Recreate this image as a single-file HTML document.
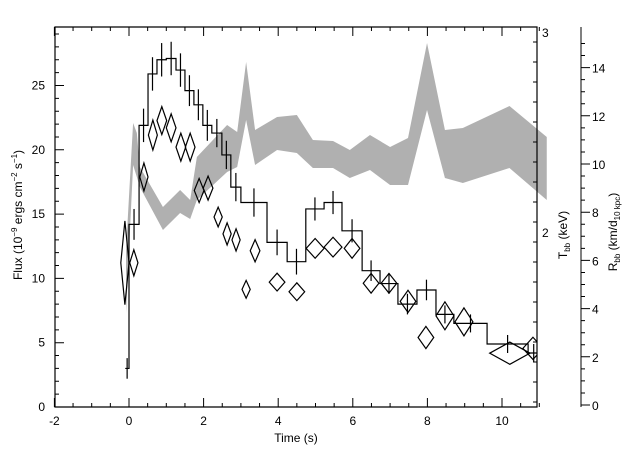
<!DOCTYPE html>
<html><head><meta charset="utf-8"><style>
html,body{margin:0;padding:0;background:#fff;width:640px;height:457px;overflow:hidden}
svg text{font-family:"Liberation Sans",sans-serif;fill:#000}
</style></head><body>
<svg id="chart" width="640" height="457" xmlns="http://www.w3.org/2000/svg">
<defs><clipPath id="plotclip"><rect x="55" y="27" width="482" height="380"/></clipPath></defs>
<g id="band"></g>
<g id="flux" clip-path="url(#plotclip)"></g>
<g id="diam" clip-path="url(#plotclip)"></g>
<g id="axes"></g>
</svg>
<script>
// Flux histogram
const binEdges=[-0.1,0,0.27,0.51,0.75,1.0,1.26,1.5,1.74,1.98,2.22,2.49,2.73,3.0,3.7,4.24,4.74,5.23,5.71,6.25,6.73,7.21,7.72,8.23,8.71,9.6,10.7,11.0];
const fluxVals=[3.0,14.2,21.9,25.9,27.0,27.1,26.2,24.6,23.5,21.9,21.3,19.6,17.1,15.9,12.8,11.3,15.4,15.9,13.7,10.6,9.6,8.0,9.1,7.2,6.5,4.9,4.2];
const fluxErr=[0.8,1.2,1.3,1.3,1.3,1.3,1.3,1.2,1.2,1.2,1.1,1.1,1.1,1.1,1.0,1.0,0.9,0.9,0.9,0.8,0.8,0.8,0.8,0.7,0.7,0.7,0.7];
// Temperature band (keV)
const bandT=[-0.08,0.11,0.21,0.29,0.91,1.37,1.64,1.82,2.63,2.9,3.14,3.38,3.97,4.5,4.93,5.47,5.92,6.46,7.0,7.48,7.99,8.47,8.95,10.2,11.2];
const bandLo=[1.595,2.335,2.275,2.225,2.01,2.095,2.065,2.16,2.30,2.325,2.56,2.335,2.41,2.395,2.32,2.32,2.27,2.31,2.235,2.235,2.61,2.27,2.245,2.32,2.16];
const bandHi=[1.91,2.545,2.495,2.325,2.125,2.21,2.16,2.375,2.535,2.50,2.85,2.51,2.575,2.585,2.46,2.455,2.41,2.485,2.425,2.47,2.945,2.51,2.52,2.63,2.475];
// Radius diamonds
const radT=[-0.11,0.13,0.40,0.64,0.88,1.13,1.39,1.64,1.88,2.12,2.39,2.63,2.87,3.14,3.38,3.97,4.5,4.99,5.47,5.98,6.49,6.97,7.48,7.96,8.47,8.98,10.21,10.83];
const radR=[5.9,5.9,9.46,11.2,11.8,11.5,10.7,10.7,8.9,9.0,7.8,7.1,6.85,4.8,6.4,5.1,4.7,6.5,6.55,6.5,5.05,5.05,4.3,2.8,3.7,3.45,2.15,2.35];
const radRErr=[1.74,0.54,0.58,0.62,0.58,0.58,0.58,0.58,0.5,0.5,0.41,0.46,0.46,0.37,0.46,0.37,0.37,0.41,0.41,0.41,0.41,0.41,0.46,0.46,0.58,0.58,0.46,0.46];
const radTErr=[0.11,0.11,0.11,0.12,0.13,0.13,0.13,0.13,0.13,0.13,0.11,0.11,0.11,0.11,0.13,0.21,0.21,0.24,0.24,0.21,0.21,0.21,0.21,0.21,0.24,0.24,0.54,0.27];
const xTicks=[-2,0,2,4,6,8,10];
const yTicks=[0,5,10,15,20,25];
const tTicks=[2,3];
const rTicks=[0,2,4,6,8,10,12,14];

const L=55,R=537,T=27,B=407;
const xS=t=>129+(t)*37.3;
const yF=f=>407-f*12.86;
const yT=k=>232-(k-2)*200;
const yR=r=>405-r*24.1;
const NS="http://www.w3.org/2000/svg";
function mk(tag,parent,attrs){const e=document.createElementNS(NS,tag);for(const k in attrs)e.setAttribute(k,attrs[k]);parent.appendChild(e);return e;}

// band
const band=document.getElementById('band');
let pts=bandT.map((t,i)=>xS(t)+','+yT(bandHi[i]));
for(let i=bandT.length-1;i>=0;i--)pts.push(xS(bandT[i])+','+yT(bandLo[i]));
const poly=mk('polygon',band,{points:pts.join(' '),fill:'#b0b0b0',stroke:'none'});



// flux
const fg=document.getElementById('flux');
let d='M'+xS(binEdges[0])+' '+yF(fluxVals[0]);
for(let i=0;i<fluxVals.length;i++){d+=' L'+xS(binEdges[i])+' '+yF(fluxVals[i])+' L'+xS(binEdges[i+1])+' '+yF(fluxVals[i]);}
const fp=mk('path',fg,{d:d,fill:'none',stroke:'#000','stroke-width':1.2});


for(let i=0;i<fluxVals.length;i++){
  const xc=xS((binEdges[i]+binEdges[i+1])/2);
  const eb=mk('line',fg,{x1:xc,x2:xc,y1:yF(fluxVals[i]+fluxErr[i]),y2:yF(fluxVals[i]-fluxErr[i]),stroke:'#000','stroke-width':1.2});
  
  
}
// diamonds
const dg=document.getElementById('diam');
for(let i=0;i<radT.length;i++){
  const x=xS(radT[i]),y=yR(radR[i]),w=radTErr[i]*37.3,h=radRErr[i]*24.1;
  const p=mk('polygon',dg,{points:`${x-w},${y} ${x},${y-h} ${x+w},${y} ${x},${y+h}`,fill:'none',stroke:'#000','stroke-width':1.2});
  
  
}
// axes
const ax=document.getElementById('axes');
const frame=mk('path',ax,{d:`M${L} ${T} L${R} ${T} L${R} ${B} L${L} ${B} Z`,fill:'none',stroke:'#000','stroke-width':1.2});


let tk='';
for(let v=-2;v<=11.01;v+=0.5){const x=xS(v);const len=(Math.abs(v%2)<0.01)?9:4;tk+=`M${x} ${B} L${x} ${B-len} M${x} ${T} L${x} ${T+len} `;}
for(let v=0;v<=29.5;v+=1){const y=yF(v);const len=(v%5===0)?9:4;tk+=`M${L} ${y} L${L+len} ${y} `;}
for(let v=1.15;v<=3.01;v+=0.1){const y=yT(v);const maj=Math.abs(v-2)<0.01||Math.abs(v-3)<0.01;tk+=`M${R} ${y} L${R-(maj?9:4)} ${y} `;}
tk+=`M581 ${T} L581 ${B} `;
for(let v=0;v<=15.3;v+=0.5){const y=yR(v);const maj=Math.abs(v%2)<0.01;tk+=`M581 ${y} L${581+(maj?9:4)} ${y} `;}
const tp=mk('path',ax,{d:tk,fill:'none',stroke:'#000','stroke-width':1});


function txt(s,x,y,anchor,name,rot){const e=mk('text',ax,{x:x,y:y,'font-size':12,'text-anchor':anchor});if(rot)e.setAttribute('transform',`rotate(-90 ${x} ${y})`);e.innerHTML=s;return e;}
xTicks.forEach(v=>txt(String(v),xS(v),425,'middle','x-tick-label'));
yTicks.forEach(v=>txt(String(v),45,yF(v)+4,'end','y-tick-label'));
tTicks.forEach(v=>txt(String(v),542,yT(v)+5,'start','t-tick-label'));
rTicks.forEach(v=>txt(String(v),592,yR(v)+5,'start','r-tick-label'));
txt('Time (s)',296,442,'middle','x-axis-title');
txt('Flux (10<tspan font-size="8" dy="-5">−9</tspan><tspan dy="5"> ergs cm</tspan><tspan font-size="8" dy="-5">−2</tspan><tspan dy="5"> s</tspan><tspan font-size="8" dy="-5">−1</tspan><tspan dy="5">)</tspan>',22,215,'middle','y-axis-title',true);
txt('T<tspan font-size="8" dy="3">bb</tspan><tspan dy="-3"> (keV)</tspan>',567,235,'middle','temperature-axis-title',true);
txt('R<tspan font-size="8" dy="3">bb</tspan><tspan dy="-3"> (km/d</tspan><tspan font-size="8" dy="3">10 kpc</tspan><tspan dy="-3">)</tspan>',617,232,'middle','radius-axis-title',true);
</script>
</body></html>
